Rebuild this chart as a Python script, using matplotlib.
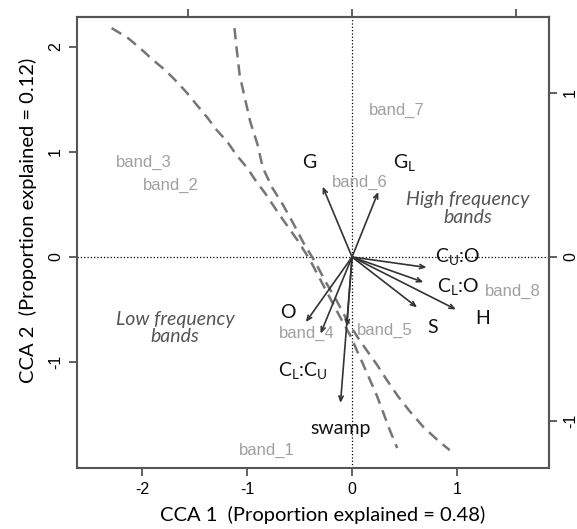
import matplotlib
matplotlib.use("Agg")
import matplotlib.pyplot as plt

plt.rcParams['mathtext.fontset'] = 'custom'
plt.rcParams['mathtext.rm'] = 'Lato'
plt.rcParams['mathtext.it'] = 'Lato:italic'
plt.rcParams['axes.unicode_minus'] = False

# dashed boundary curves (CCA 1, CCA 2)
curve1_x = [-2.29, -2.14, -2.02, -1.90, -1.78, -1.67, -1.57, -1.48, -1.38, -1.29, -1.19, -1.10,
            -1.00, -0.92, -0.83, -0.69, -0.52, -0.40, -0.30, -0.20, -0.11, -0.01, 0.05, 0.10,
            0.17, 0.24, 0.30, 0.36, 0.43]
curve1_y = [2.18, 2.09, 1.99, 1.88, 1.78, 1.67, 1.56, 1.45, 1.33, 1.21, 1.10, 0.97,
            0.85, 0.73, 0.61, 0.40, 0.16, -0.03, -0.22, -0.41, -0.58, -0.76, -0.90, -1.01,
            -1.17, -1.33, -1.49, -1.65, -1.82]
curve2_x = [-1.12, -1.10, -1.07, -1.02, -0.97, -0.90, -0.85, -0.76, -0.66, -0.56, -0.46, -0.35,
            -0.25, -0.15, -0.06, 0.05, 0.14, 0.24, 0.33, 0.44, 0.55, 0.68, 0.81, 0.93]
curve2_y = [2.18, 1.99, 1.73, 1.51, 1.29, 1.07, 0.85, 0.66, 0.50, 0.32, 0.13, -0.05,
            -0.24, -0.41, -0.58, -0.76, -0.89, -1.03, -1.17, -1.33, -1.47, -1.62, -1.74, -1.84]

# environmental arrows
arrow_x = [-0.28, 0.25, 0.71, 0.68, 0.62, 0.99, -0.44, -0.30, -0.05, -0.11]
arrow_y = [0.67, 0.62, -0.10, -0.24, -0.48, -0.50, -0.62, -0.73, -0.66, -1.39]

var_labels = ['G', r'G$_\mathregular{L}$', r'C$_\mathregular{U}$:O', r'C$_\mathregular{L}$:O',
              'S', 'H', 'O', r'C$_\mathregular{L}$:C$_\mathregular{U}$', 'swamp']
var_x = [-0.41, 0.50, 1.01, 1.01, 0.77, 1.24, -0.61, -0.47, -0.11]
var_y = [0.90, 0.90, 0.00, -0.28, -0.67, -0.59, -0.53, -1.08, -1.63]

band_labels = ['band_1', 'band_2', 'band_3', 'band_4', 'band_5', 'band_6', 'band_7', 'band_8']
band_x = [-0.81, -1.73, -1.98, -0.43, 0.31, 0.07, 0.43, 1.53]
band_y = [-1.84, 0.68, 0.90, -0.73, -0.70, 0.71, 1.40, -0.33]

scale = 1.562  # biplot axis scale (top/right)

fig = plt.figure(figsize=(5.77, 5.29), dpi=100)
ax = fig.add_axes([0.1334, 0.1153, 0.8181, 0.8526])
ax.set_xlim(-2.62, 1.876)
ax.set_ylim(-2.01, 2.286)

ax.axhline(0, color='black', lw=0.9, ls=':', zorder=1)
ax.axvline(0, color='black', lw=0.9, ls=':', zorder=1)

for cx, cy in [(curve1_x, curve1_y), (curve2_x, curve2_y)]:
    ax.plot(cx, cy, color='#757575', lw=1.8, ls=(0, (4.5, 2.8)), zorder=2)

for x, y in zip(arrow_x, arrow_y):
    ax.annotate('', xy=(x, y), xytext=(0, 0),
                arrowprops=dict(arrowstyle='->,head_length=0.35,head_width=0.15',
                                color='#333333', lw=1.2, shrinkA=0, shrinkB=0), zorder=3)

for t, x, y in zip(band_labels, band_x, band_y):
    ax.text(x, y, t, color='#a0a0a0', fontsize=12, family='Liberation Sans',
            ha='center', va='center', zorder=4)

for t, x, y in zip(var_labels, var_x, var_y):
    ax.text(x, y, t, color='#111111', fontsize=14, family='Lato',
            ha='center', va='center', zorder=5)

ax.text(1.105, 0.46, 'High frequency\nbands', color='#555555', fontsize=14, family='Lato',
        style='italic', ha='center', va='center', linespacing=1.05)
ax.text(-1.686, -0.676, 'Low frequency\nbands', color='#555555', fontsize=14, family='Lato',
        style='italic', ha='center', va='center', linespacing=1.05)

for s in ax.spines.values():
    s.set_color('#555555')
    s.set_linewidth(1.5)

ax.set_xticks([-2, -1, 0, 1])
ax.set_yticks([-1, 0, 1, 2])
ax.tick_params(length=6, width=1.3, color='#555555', labelsize=11.5, pad=4)
for lab in ax.get_yticklabels():
    lab.set_rotation(90)
    lab.set_va('center')
for lab in ax.get_xticklabels() + ax.get_yticklabels():
    lab.set_family('Liberation Sans')

top = ax.secondary_xaxis('top', functions=(lambda v: v / scale, lambda v: v * scale))
top.set_xticks([-1, 0, 1])
top.set_xticklabels([])
top.tick_params(length=6, width=1.3, color='#555555')
right = ax.secondary_yaxis('right', functions=(lambda v: v / scale, lambda v: v * scale))
right.set_yticks([-1, 0, 1])
right.tick_params(length=6, width=1.3, color='#555555', labelsize=11.5, pad=4)
for lab in right.get_yticklabels():
    lab.set_rotation(90)
    lab.set_va('center')
    lab.set_family('Liberation Sans')
for s in list(top.spines.values()) + list(right.spines.values()):
    s.set_color('#555555')
    s.set_linewidth(1.5)

ax.set_xlabel('CCA 1  (Proportion explained = 0.48)', fontsize=14.5, family='Lato')
ax.set_ylabel('CCA 2  (Proportion explained = 0.12)', fontsize=14.5, family='Lato')
ax.xaxis.set_label_coords(0.52, -0.083)
ax.yaxis.set_label_coords(-0.085, 0.55)

fig.savefig('out.png', dpi=100)
